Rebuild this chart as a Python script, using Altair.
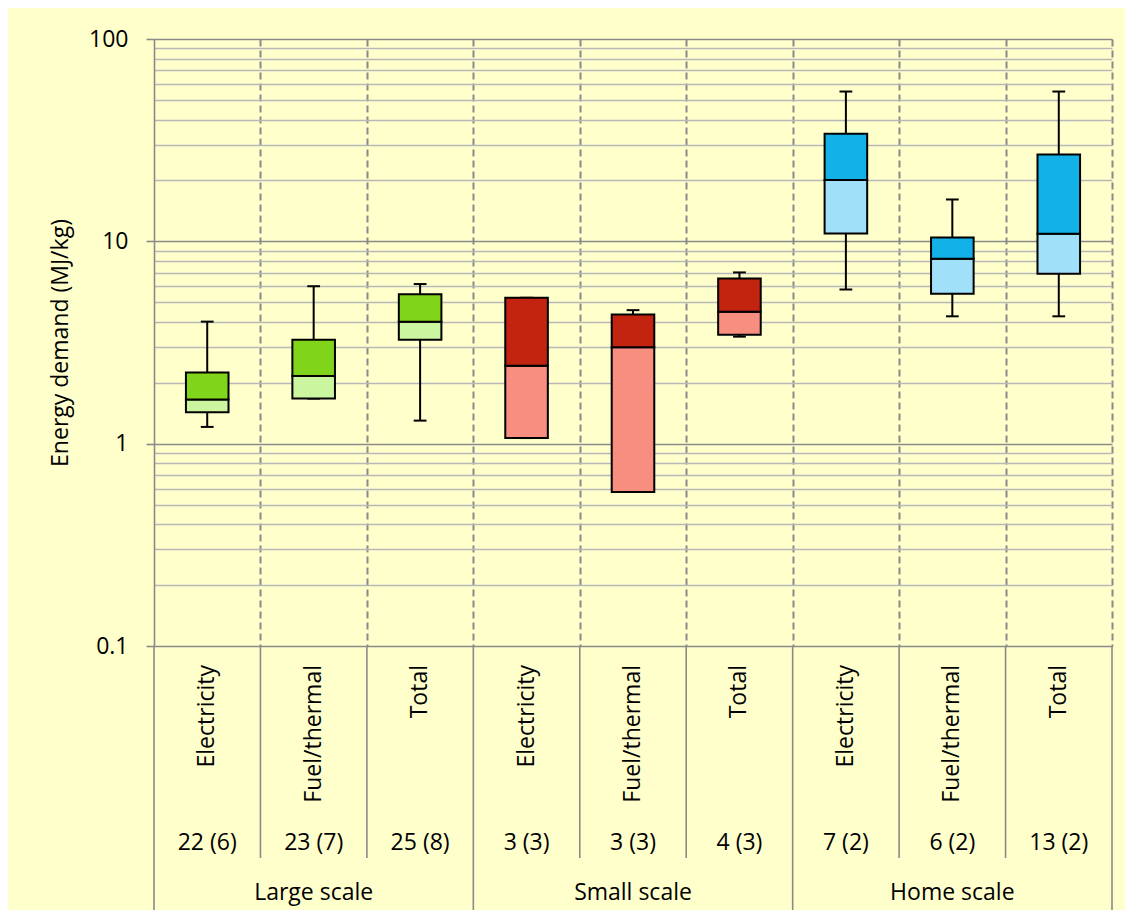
import altair as alt
import pandas as pd

groups = ["Large scale"] * 3 + ["Small scale"] * 3 + ["Home scale"] * 3
types = ["Electricity", "Fuel/thermal", "Total"] * 3
counts = ["22 (6)", "23 (7)", "25 (8)", "3 (3)", "3 (3)", "4 (3)", "7 (2)", "6 (2)", "13 (2)"]
whisker_low = [1.21, 1.67, 1.30, 1.066, 0.577, 3.38, 5.78, 4.26, 4.26]
q1 = [1.43, 1.67, 3.26, 1.066, 0.577, 3.45, 10.94, 5.51, 6.92]
median = [1.655, 2.16, 4.01, 2.43, 3.0, 4.49, 20.1, 8.2, 10.9]
q3 = [2.25, 3.26, 5.47, 5.26, 4.35, 6.56, 34.0, 10.45, 26.9]
whisker_high = [4.01, 6.0, 6.15, 5.26, 4.57, 7.02, 55.0, 16.1, 55.0]

group_order = ["Large scale", "Small scale", "Home scale"]
dark_colors = ["#80D41A", "#C2240F", "#12B1E8"]
light_colors = ["#CCF5A0", "#F78E80", "#A0E1F9"]

major = [0.1, 1, 10, 100]
gridvals = [0.1, 0.2, 0.3, 0.4, 0.5, 0.6, 0.7, 0.8, 0.9,
            1, 2, 3, 4, 5, 6, 7, 8, 9,
            10, 20, 30, 40, 50, 60, 70, 80, 90, 100]

df = pd.DataFrame({
    "idx": list(range(len(types))),
    "group": groups,
    "type": types,
    "count": counts,
    "lo": whisker_low,
    "q1": q1,
    "med": median,
    "q3": q3,
    "hi": whisker_high,
})
bounds = pd.DataFrame({"b": list(range(len(types) + 1))})

FONT = "Open Sans"
FS = 23
GRID_DARK = "#8a8a8a"
GRID_LIGHT = "#b8b8b8"
major_test = "indexof([0.1, 1, 10, 100], datum.value) >= 0"

xscale = alt.Scale(domain=[0, len(types)], nice=False, zero=False)
yscale = alt.Scale(type="log", domain=[0.1, 100], nice=False)

X_AXIS = alt.Axis(values=list(range(1, len(types) + 1)), grid=True, gridDash=[7, 4],
                  gridColor=GRID_DARK, gridWidth=2, labels=False, ticks=False,
                  domain=False, title="")
Y_AXIS = alt.Axis(
    values=gridvals, format="~g",
    labelExpr=f"{major_test} ? datum.label : ''",
    grid=True,
    gridColor={"condition": {"test": major_test, "value": GRID_DARK}, "value": GRID_LIGHT},
    gridWidth=1.6,
    tickColor={"condition": {"test": major_test, "value": GRID_DARK}, "value": "transparent"},
    tickWidth=1.6, tickSize=8,
    domainColor=GRID_DARK, domainWidth=1.6,
    labelFont=FONT, labelFontSize=FS, labelColor="black", labelPadding=18,
    title="Energy demand (MJ/kg)", titleFont=FONT, titleFontSize=FS,
    titleFontWeight="normal", titleColor="black", titleAngle=270,
    titleX=-94, titleY=303.5, titleAlign="center", titleBaseline="middle",
)


def X(field):
    return alt.X(f"{field}:Q", scale=xscale, axis=X_AXIS)


def Y(field):
    return alt.Y(f"{field}:Q", scale=yscale, axis=Y_AXIS)


base = alt.Chart(df).transform_calculate(
    c="datum.idx + 0.5",
    bl="datum.idx + 0.3",
    br="datum.idx + 0.7",
    cl="datum.idx + 0.44",
    cr="datum.idx + 0.56",
)

whisker = base.mark_rule(color="black", strokeWidth=2).encode(
    x=X("c"), y=Y("lo"), y2="hi:Q")
cap_lo = base.mark_rule(color="black", strokeWidth=2).encode(
    x=X("cl"), x2="cr:Q", y=Y("lo"))
cap_hi = base.mark_rule(color="black", strokeWidth=2).encode(
    x=X("cl"), x2="cr:Q", y=Y("hi"))

box_lo = base.mark_bar(stroke="black", strokeWidth=2, opacity=1).encode(
    x=X("bl"), x2="br:Q", y=Y("q1"), y2="med:Q",
    fill=alt.Fill("group:N", scale=alt.Scale(domain=group_order, range=light_colors), legend=None),
)
box_hi = base.mark_bar(stroke="black", strokeWidth=2, opacity=1).encode(
    x=X("bl"), x2="br:Q", y=Y("med"), y2="q3:Q",
    color=alt.Color("group:N", scale=alt.Scale(domain=group_order, range=dark_colors), legend=None),
)

cat_text = base.mark_text(angle=270, align="right", baseline="middle",
                          font=FONT, fontSize=FS, color="black").encode(
    x=X("c"), y=alt.value(626), text="type:N")
count_text = base.mark_text(align="center", baseline="middle",
                            font=FONT, fontSize=FS, color="black").encode(
    x=X("c"), y=alt.value(804), text="count:N")
group_text = alt.Chart(df).transform_aggregate(
    m="mean(idx)", groupby=["group"]
).transform_calculate(gc="datum.m + 0.5").mark_text(
    align="center", baseline="middle", font=FONT, fontSize=FS, color="black"
).encode(x=X("gc"), y=alt.value(854), text="group:N")

rules_short = alt.Chart(bounds).transform_filter("datum.b % 3 != 0").mark_rule(
    color=GRID_DARK, strokeWidth=1.6).encode(x=X("b"), y=alt.value(607), y2=alt.value(819))
rules_long = alt.Chart(bounds).transform_filter("datum.b % 3 == 0").mark_rule(
    color=GRID_DARK, strokeWidth=1.6).encode(x=X("b"), y=alt.value(607), y2=alt.value(871))

chart = alt.layer(
    whisker, cap_lo, cap_hi, box_lo, box_hi,
    rules_short, rules_long, cat_text, count_text, group_text,
).properties(
    width=958, height=607,
    autosize=alt.AutoSizeParams(type="none"),
    padding={"left": 146, "top": 31, "right": 13, "bottom": 264},
    background="#FFFFCC",
).configure_view(strokeWidth=0)

chart.save("out.html", embed_options={"renderer": "svg", "actions": False})
